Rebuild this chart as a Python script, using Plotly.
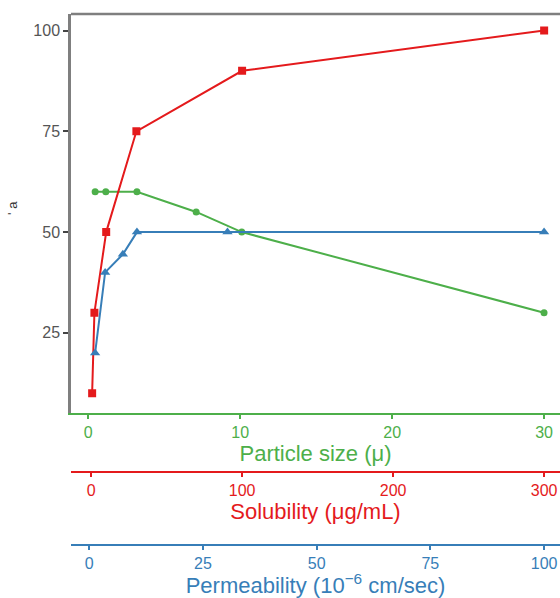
import plotly.graph_objects as go

# Data
particle_size = [0.45, 1.15, 3.2, 7.1, 10.1, 30]
particle_y = [60, 60, 60, 55, 50, 30]

solubility = [0.7, 2.2, 10, 30, 100, 300]
solubility_y = [10, 30, 50, 75, 90, 100]

permeability = [1.3, 3.5, 7.4, 10.5, 30.4, 100]
permeability_y = [20, 40, 44.5, 50, 50, 50]

y_ticks = [25, 50, 75, 100]
particle_ticks = [0, 10, 20, 30]
solubility_ticks = [0, 100, 200, 300]
permeability_ticks = [0, 25, 50, 75, 100]

GREEN = "#4DAF4A"
RED = "#E41A1C"
BLUE = "#377EB8"
FONT = "Liberation Sans"

fig = go.Figure()
fig.add_trace(go.Scatter(x=particle_size, y=particle_y, mode="lines+markers",
                         line=dict(color=GREEN, width=2),
                         marker=dict(symbol="circle", size=7, color=GREEN),
                         xaxis="x", yaxis="y", showlegend=False))
fig.add_trace(go.Scatter(x=solubility, y=solubility_y, mode="lines+markers",
                         line=dict(color=RED, width=2),
                         marker=dict(symbol="square", size=8, color=RED),
                         xaxis="x2", yaxis="y", showlegend=False))
fig.add_trace(go.Scatter(x=permeability, y=permeability_y, mode="lines+markers",
                         line=dict(color=BLUE, width=2),
                         marker=dict(symbol="triangle-up", size=9, color=BLUE),
                         xaxis="x3", yaxis="y", showlegend=False))

def xaxis_style(color, ticks, rng, title):
    return dict(
        range=rng, tickvals=ticks, showgrid=False, zeroline=False,
        showline=True, linecolor=color, linewidth=2,
        ticks="outside", ticklen=4, tickwidth=1.5, tickcolor=color,
        tickfont=dict(family=FONT, size=16, color=color),
        title=dict(text=title, font=dict(family=FONT, size=22, color=color), standoff=3),
    )

xa = xaxis_style(GREEN, particle_ticks, [-1.14, 31.05], "Particle size (μ)")
xa.update(anchor="y")
xa2 = xaxis_style(RED, solubility_ticks, [-13.3, 310.5], "Solubility (μg/mL)")
xa2.update(overlaying="x", anchor="free", position=0.2158, side="bottom")
xa3 = xaxis_style(BLUE, permeability_ticks, [-4.0, 103.5],
                  "Permeability (10<sup>−6</sup> cm/sec)")
xa3.update(overlaying="x", anchor="free", position=0.0908, side="bottom")

fig.update_layout(
    width=560, height=598,
    margin=dict(l=71, r=0, t=14, b=0),
    paper_bgcolor="white", plot_bgcolor="white",
    xaxis=xa, xaxis2=xa2, xaxis3=xa3,
    yaxis=dict(
        domain=[0.3173, 1], range=[5.2, 104.1], tickvals=y_ticks,
        showgrid=False, zeroline=False, showline=True,
        linecolor="#7f7f7f", linewidth=2.5,
        ticks="outside", ticklen=5, tickwidth=1.5, tickcolor="#444",
        tickfont=dict(family=FONT, size=16, color="#555"),
    ),
    shapes=[dict(type="line", xref="paper", yref="paper", x0=0, x1=1, y0=1, y1=1,
                 line=dict(color="#7f7f7f", width=2.5))],
    annotations=[dict(text="' a", xref="paper", yref="paper", x=-0.1186, y=0.668,
                      xanchor="center", yanchor="middle", showarrow=False, textangle=-90,
                      font=dict(family=FONT, size=13, color="#333"))],
)

fig.write_html(
    "out.html",
    config={"displayModeBar": False},
    post_script="document.body.style.margin='0';"
                "document.documentElement.style.overflow='hidden';"
                "document.body.style.overflow='hidden';",
)
